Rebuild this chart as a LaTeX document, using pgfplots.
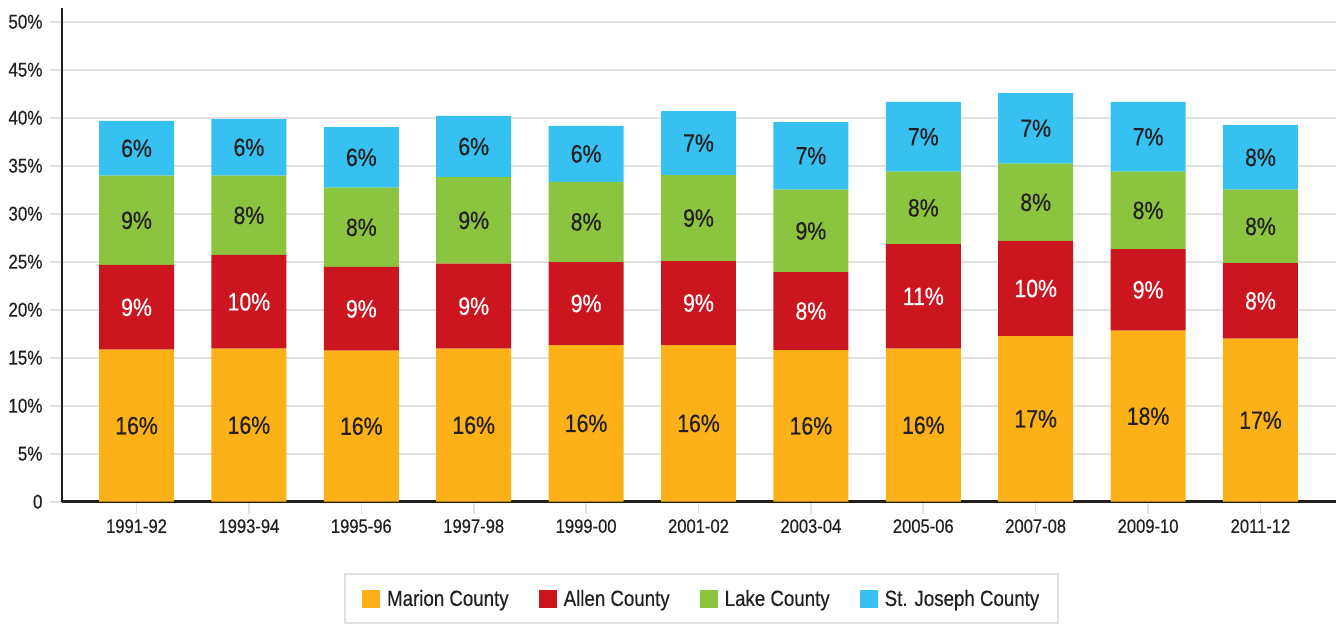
\documentclass[border=0pt]{standalone}
\usepackage{fontspec}
\setmainfont{Liberation Sans}[FakeStretch=0.85, FakeBold=0.4]
\usepackage{pgfplots}
\pgfplotsset{compat=1.18}

\definecolor{marion}{RGB}{251,177,23}
\definecolor{allen}{RGB}{204,22,31}
\definecolor{lake}{RGB}{139,196,63}
\definecolor{stjoe}{RGB}{54,193,240}
\definecolor{ink}{RGB}{35,31,32}
\definecolor{gridc}{RGB}{224,224,224}

\pgfplotsset{
  base/.style={
    at={(0,0)}, anchor=south west,
    scale only axis,
    width=1274pt, height=493.7pt,
    xmin=-0.663, xmax=10.672,
    ymin=0, ymax=51.43,
  },
}

\begin{document}
\begin{tikzpicture}
\begin{axis}[
    base,
    ybar stacked,
    bar width=0.667,
    axis x line*=bottom, axis y line*=left,
    axis line style={draw=ink, line width=2.8pt, -},
    xtick={0,...,10},
    xticklabels={1991-92,1993-94,1995-96,1997-98,1999-00,2001-02,2003-04,2005-06,2007-08,2009-10,2011-12},
    ytick={0,5,...,50},
    yticklabels={0,5\%,10\%,15\%,20\%,25\%,30\%,35\%,40\%,45\%,50\%},
    ymajorgrids,
    grid style={draw=gridc, line width=1.6pt},
    tick align=outside,
    major tick length=12pt,
    tick style={draw=gridc, line width=1.6pt},
    xticklabel style={font=\fontsize{19.5}{23}\selectfont, text=ink, yshift=-2pt},
    yticklabel style={font=\fontsize{20}{24}\selectfont, text=ink, xshift=-4pt},
    legend style={
      at={(0.2214,-0.1444)}, anchor=north west,
      draw=gridc, line width=2pt,
      legend columns=4,
      font=\fontsize{22}{26}\selectfont, text=ink,
      inner xsep=17pt, inner ysep=14pt,
      /tikz/every odd column/.append style={column sep=5pt},
      /tikz/every even column/.append style={column sep=28pt},
    },
    legend image code/.code={\fill[#1,draw=none] (0pt,-9pt) rectangle (18pt,9pt);},
]
\addplot[fill=marion, draw=none] coordinates {
  (0,15.83) (1,15.94) (2,15.73) (3,15.94) (4,16.32) (5,16.32)
  (6,15.80) (7,15.94) (8,17.26) (9,17.81) (10,16.98)};
\addplot[fill=allen, draw=none] coordinates {
  (0,8.83) (1,9.76) (2,8.72) (3,8.85) (4,8.65) (5,8.75)
  (6,8.11) (7,10.90) (8,9.90) (9,8.51) (10,7.88)};
\addplot[fill=lake, draw=none] coordinates {
  (0,9.30) (1,8.26) (2,8.26) (3,9.03) (4,8.36) (5,8.96)
  (6,8.59) (7,7.54) (8,8.05) (9,8.06) (10,7.64)};
\addplot[fill=stjoe, draw=none] coordinates {
  (0,5.70) (1,5.90) (2,6.32) (3,6.36) (4,5.81) (5,6.67)
  (6,7.05) (7,7.26) (8,7.36) (9,7.26) (10,6.74)};
\legend{Marion County, Allen County, Lake County, St. Joseph County}
\end{axis}

% segment labels, centred in each segment
\begin{axis}[
    base,
    hide axis,
    nodes near coords,
    point meta=explicit symbolic,
    nodes near coords align={center},
    every node near coord/.append style={anchor=center, font=\fontsize{25}{30}\selectfont},
]
\addplot[draw=none, no markers, every node near coord/.append style={text=ink}] coordinates {
  (0,7.92) [16\%] (1,7.97) [16\%] (2,7.87) [16\%] (3,7.97) [16\%]
  (4,8.16) [16\%] (5,8.16) [16\%] (6,7.90) [16\%] (7,7.97) [16\%]
  (8,8.63) [17\%] (9,8.91) [18\%] (10,8.49) [17\%]};
\addplot[draw=none, no markers, every node near coord/.append style={text=white}] coordinates {
  (0,20.25) [9\%] (1,20.82) [10\%] (2,20.09) [9\%] (3,20.37) [9\%]
  (4,20.65) [9\%] (5,20.70) [9\%] (6,19.86) [8\%] (7,21.39) [11\%]
  (8,22.21) [10\%] (9,22.07) [9\%] (10,20.92) [8\%]};
\addplot[draw=none, no markers, every node near coord/.append style={text=ink}] coordinates {
  (0,29.31) [9\%] (1,29.83) [8\%] (2,28.58) [8\%] (3,29.31) [9\%]
  (4,29.15) [8\%] (5,29.55) [9\%] (6,28.21) [9\%] (7,30.61) [8\%]
  (8,31.19) [8\%] (9,30.35) [8\%] (10,28.68) [8\%]};
\addplot[draw=none, no markers, every node near coord/.append style={text=ink}] coordinates {
  (0,36.81) [6\%] (1,36.91) [6\%] (2,35.87) [6\%] (3,37.00) [6\%]
  (4,36.24) [6\%] (5,37.37) [7\%] (6,36.03) [7\%] (7,38.01) [7\%]
  (8,38.89) [7\%] (9,38.01) [7\%] (10,35.87) [8\%]};
\end{axis}

\pgfresetboundingbox
\path[use as bounding box] (-62pt,-123.3pt) rectangle (1274pt,501.7pt);
\end{tikzpicture}
\end{document}
